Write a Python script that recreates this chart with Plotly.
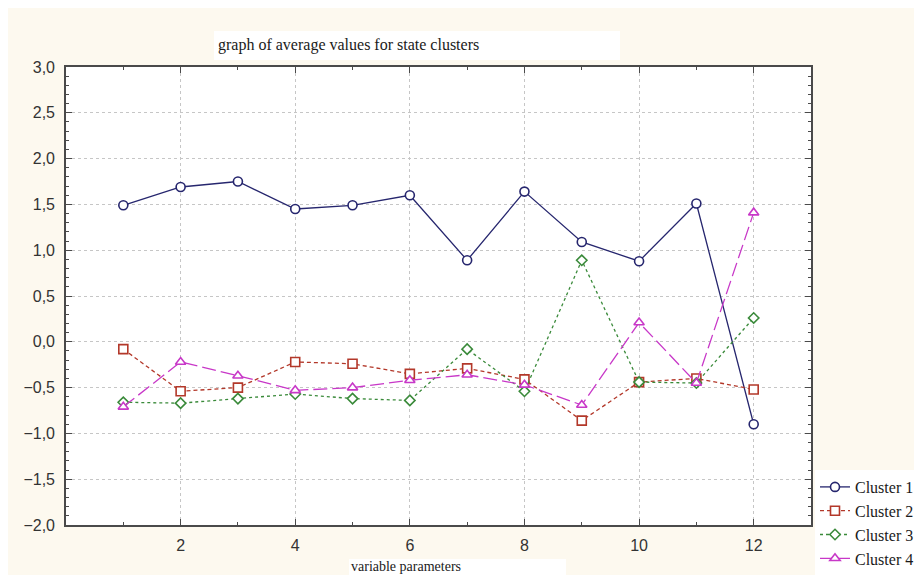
import plotly.graph_objects as go

# ---- data ----
params = [1, 2, 3, 4, 5, 6, 7, 8, 9, 10, 11, 12]
cluster1 = [1.49, 1.69, 1.75, 1.45, 1.49, 1.60, 0.89, 1.64, 1.09, 0.88, 1.51, -0.90]
cluster2 = [-0.08, -0.54, -0.50, -0.22, -0.24, -0.35, -0.29, -0.41, -0.86, -0.44, -0.40, -0.52]
cluster3 = [-0.66, -0.67, -0.62, -0.57, -0.62, -0.64, -0.08, -0.54, 0.89, -0.44, -0.45, 0.26]
cluster4 = [-0.71, -0.22, -0.37, -0.53, -0.50, -0.42, -0.36, -0.47, -0.69, 0.21, -0.45, 1.41]
names = ["Cluster 1", "Cluster 2", "Cluster 3", "Cluster 4"]
x_ticks = [2, 4, 6, 8, 10, 12]
y_ticks = [3.0, 2.5, 2.0, 1.5, 1.0, 0.5, 0.0, -0.5, -1.0, -1.5, -2.0]

title_text = "graph of average values for state clusters"
xlabel_text = "variable parameters"

styles = [
    dict(color="#26266e", dash="solid", symbol="circle", size=9),
    dict(color="#b3382a", dash="4px,3px", symbol="square", size=9),
    dict(color="#3a8a3a", dash="dot", symbol="diamond", size=8),
    dict(color="#c838c8", dash="14px,5px", symbol="triangle-up", size=9),
]

fig = go.Figure()
for name, vals, st in zip(names, [cluster1, cluster2, cluster3, cluster4], styles):
    fig.add_trace(go.Scatter(
        x=params, y=vals, name=name, mode="lines+markers",
        line=dict(color=st["color"], width=1.3, dash=st["dash"]),
        marker=dict(symbol=st["symbol"], size=st["size"], color="white",
                    line=dict(color=st["color"], width=1.6)),
    ))

W, H = 922, 575
L, R, T, B = 58, 119, 59, 58
pw, ph = W - L - R, H - T - B

def px2x(p):
    return (p - L) / pw

def px2y(p):
    return (H - B - p) / ph

axis_common = dict(
    showline=True, linecolor="#4a4a4a", linewidth=1.6, mirror="ticks",
    ticks="inside", ticklen=6, tickcolor="#4a4a4a", tickwidth=1.2,
    showgrid=True, gridcolor="#c6c6c6", griddash="dot", gridwidth=1,
    zeroline=False,
    tickfont=dict(family="Liberation Sans, Arial, sans-serif", size=16, color="#333333"),
)

fig.update_xaxes(
    range=[0, 13], tickvals=x_ticks, ticklabelstandoff=5,
    minor=dict(dtick=1, tick0=0, ticks="inside", ticklen=3, tickcolor="#4a4a4a", showgrid=False),
    **axis_common,
)
fig.update_yaxes(
    range=[-2.0, 3.0], tickvals=y_ticks, tickformat=".1f", ticklabelstandoff=6,
    minor=dict(dtick=0.1, tick0=0, ticks="inside", ticklen=3, tickcolor="#4a4a4a", showgrid=False),
    **axis_common,
)

shapes = [
    dict(type="rect", xref="paper", yref="paper",
         x0=px2x(206), x1=px2x(612), y0=px2y(52), y1=px2y(23),
         fillcolor="white", line=dict(width=0), layer="below"),
    dict(type="rect", xref="paper", yref="paper",
         x0=px2x(341), x1=px2x(558), y0=px2y(580), y1=px2y(551),
         fillcolor="white", line=dict(width=0), layer="below"),
]

annotations = [
    dict(text=title_text, xref="paper", yref="paper", x=px2x(208), y=px2y(37),
         xanchor="left", yanchor="middle", showarrow=False,
         font=dict(family="Liberation Serif, Times New Roman, serif", size=16, color="#1a1a1a")),
    dict(text=xlabel_text, xref="paper", yref="paper", x=px2x(341), y=px2y(558),
         xanchor="left", yanchor="middle", showarrow=False,
         font=dict(family="Liberation Serif, Times New Roman, serif", size=14, color="#1a1a1a")),
]

fig.update_layout(
    width=W, height=H,
    margin=dict(l=L, r=R, t=T, b=B, autoexpand=False),
    paper_bgcolor="#fdf9ef", plot_bgcolor="white",
    separators=", ",
    showlegend=True,
    legend=dict(
        x=px2x(807), y=px2y(462), xanchor="left", yanchor="top",
        bgcolor="white", borderwidth=0,
        font=dict(family="Liberation Serif, Times New Roman, serif", size=16, color="#1a1a1a"),
        tracegroupgap=0, itemwidth=30,
    ),
    shapes=shapes, annotations=annotations,
)

fig.write_html("out.html")
